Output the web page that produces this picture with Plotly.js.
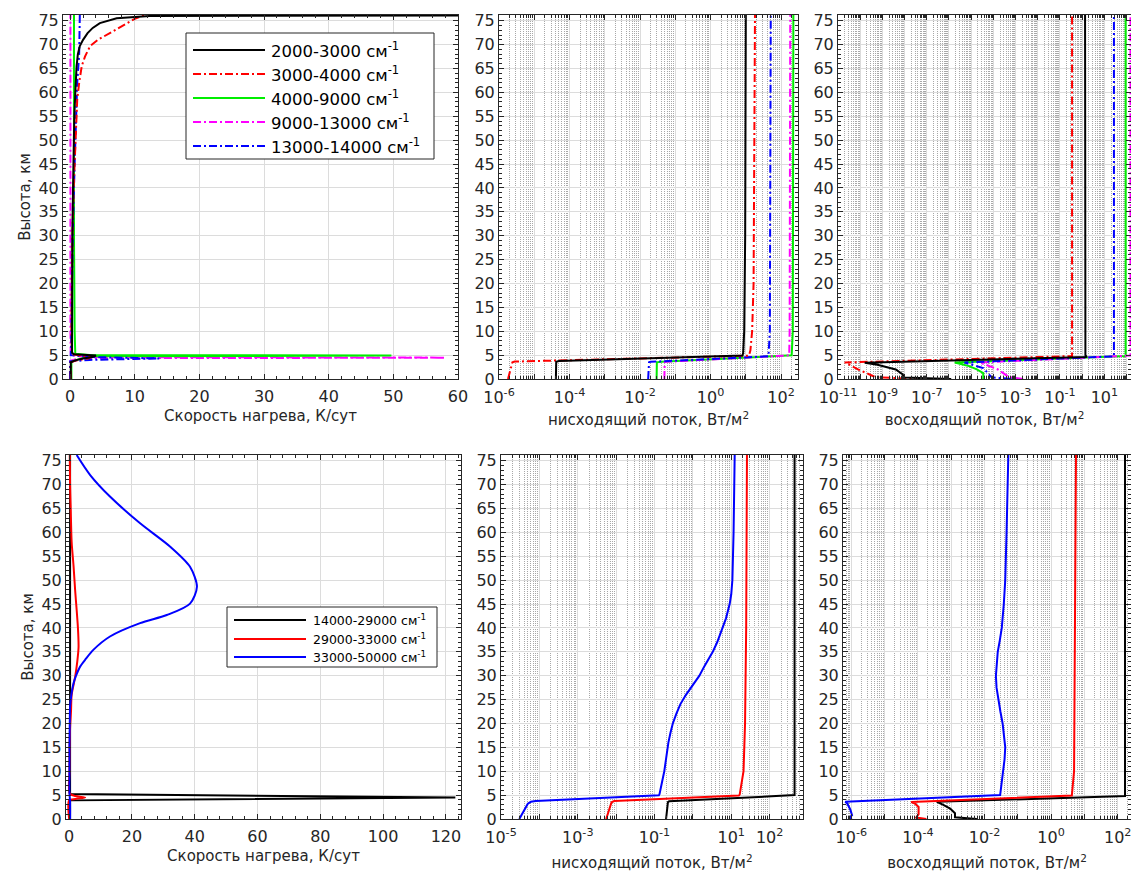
<!DOCTYPE html>
<html><head><meta charset="utf-8">
<script src="https://cdn.plot.ly/plotly-3.0.1.min.js"></script>
<style>html,body{margin:0;padding:0;background:#fff}#chart{width:1131px;height:872px}</style>
</head><body><div id="chart"></div>
<script>
// ---------- DATA ----------
const topNames = ['2000-3000 см<sup>-1</sup>','3000-4000 см<sup>-1</sup>','4000-9000 см<sup>-1</sup>','9000-13000 см<sup>-1</sup>','13000-14000 см<sup>-1</sup>'];
const botNames = ['14000-29000 см<sup>-1</sup>','29000-33000 см<sup>-1</sup>','33000-50000 см<sup>-1</sup>'];

// Heating rate, K/day (top-left)
const hr2000_h = [0,3.5,3.9,4.3,4.6,4.9,5.2,5.5,10,20,30,40,50,55,60,63,65.5,68,69.7,71,72.4,73.5,74.5,75.5,76,76.1];
const hr2000_v = [0.1,0.1,0.8,2.0,3.5,4.0,0.6,0.3,0.3,0.3,0.35,0.45,0.55,0.65,0.8,0.9,1.0,1.2,1.5,2.0,2.7,3.5,4.6,7.2,12.3,62];
const hr3000_h = [0,3.5,3.9,4.3,4.6,4.9,5.2,10,20,30.5,40,48,53,58.5,62,65.5,67.5,69.7,71,72.4,73.5,74.5,75.4,76.2];
const hr3000_v = [0.1,0.1,1.0,2.8,3.2,2.0,0.3,0.2,0.25,0.36,0.55,0.77,0.95,1.1,1.4,1.8,2.3,3.1,4.3,6.1,7.4,8.7,10.0,11.5];
const hr4000_h = [0,3.6,4.0,4.4,4.75,4.9,5.05,5.3,10,30,50,76.2];
const hr4000_v = [0.2,0.2,1.0,2.0,3.0,49.7,3.0,0.8,0.7,0.6,0.6,0.6];
const hr9000_h = [0,3.8,4.2,4.35,4.47,4.6,5.0,10,40,76.2];
const hr9000_v = [0.05,0.05,1.0,3.0,58,3.0,0.1,0.05,0.05,0.05];
const hr13000_h = [0,3.7,4.0,4.3,4.6,5.0,10,30,45,55,62,68,76.2];
const hr13000_v = [0,0,3,13.8,3,0.1,0.2,0.4,0.7,0.9,1.1,1.4,1.5];

// Downward flux, W/m2 (top-middle)
const dn2000_h = [0,3.6,3.75,4.9,5.5,10,30,76.2];
const dn2000_v = [4.1e-5,4.2e-5,5e-5,8.1,8.4,9.0,9.6,10];
const dn3000_h = [0,3.5,3.65,4.88,6,8,10,20,76.2];
const dn3000_v = [1.8e-6,2.4e-6,2.8e-6,12.3,13.5,14.5,15.1,16.6,18.2];
const dn4000_h = [0,3.5,3.6,4.95,10,76.2];
const dn4000_v = [0.0295,0.03,0.04,200,215,223];
const dn9000_h = [0,3.5,3.6,4.95,10,76.2];
const dn9000_v = [0.049,0.05,0.055,170,175,182];
const dn13000_h = [0,3.5,3.6,4.75,10,76.2];
const dn13000_v = [0.017,0.018,0.02,44,48,51];

// Upward flux, W/m2 (top-right)
const up2000_h = [0,0.3,1,2,3,3.4,4.6,5,76.2];
const up2000_v = [1.26e-6,1e-8,8e-9,4e-9,6e-10,1.6e-10,1.6,1.4,1.35];
const up3000_h = [0,0.35,1,2,3.3,3.45,4.8,5,76.2];
const up3000_v = [6.3e-8,5e-10,2.5e-10,8e-11,2.5e-11,2e-11,0.35,0.35,0.35];
const up4000_h = [0,1.25,2.0,2.7,3.3,3.45,4.8,5,76.2];
const up4000_v = [3.5e-5,3.5e-5,1.8e-5,8e-6,2.5e-6,1.8e-6,91,91,91];
const up9000_h = [0,0.4,2,3.3,3.45,4.9,76.2];
const up9000_v = [2.2e-3,5e-4,1.6e-4,3.2e-5,2.5e-5,150,150];
const up13000_h = [0,0.35,2.3,3.3,3.45,4.75,5,76.2];
const up13000_v = [6.6e-4,8.3e-5,3.5e-5,6.3e-6,5e-6,27,27,27];

// Heating rate, K/day (bottom-left)
const hr14000_h = [0,3.9,4.5,5.25,5.5,10,20,30,40,50,60,70,76.2];
const hr14000_v = [0.3,0.3,123,0.4,0.3,0.3,0.2,0.2,0.3,0.3,0.3,0.3,0.3];
const hr29000_h = [0,3.9,4.2,4.5,4.8,5.3,10,19,22.6,26,29.7,33,36,40,48,53,58,65,70,76.2];
const hr29000_v = [0,0,2,5.1,2,0.2,0.1,0.3,0.6,0.8,1.9,2.6,3.0,2.8,1.9,1.4,0.8,0.5,0.3,0.2];
const hr33000_h = [0,3.5,4.5,5.5,10,15,20,23.5,26,28.4,30,31.9,33.5,35.4,38.2,41,42.7,45.1,48.6,52.8,57,61.9,67.5,72,76.2];
const hr33000_v = [0.3,0.3,0.2,0.1,0.1,0.1,0.2,0.3,0.7,1.4,2.2,3.5,5.3,7.7,13,22.6,31.1,38.5,40.7,38.5,32.2,22.6,13,6.7,2.4];

// Downward flux (bottom-middle)
const dn14000_h = [0,3.55,3.7,4.85,5,76.2];
const dn14000_v = [0.2,0.224,0.24,417,447,447];
const dn29000_h = [0,3.5,3.75,4.9,5.1,10,20,40,76.2];
const dn29000_v = [5.5e-3,7.6e-3,8.9e-3,15.8,16.6,20.9,22.9,24.5,25.7];
const dn33000_h = [0,3.2,3.6,3.75,4.95,5.2,10,12,14,16,18,20,22,24,26,28,30,32,35,37,40,42,45,47,50,55,60,76.2];
const dn33000_v = [3.0e-5,5e-5,6e-5,8e-5,0.13,0.135,0.18,0.195,0.21,0.23,0.26,0.30,0.37,0.47,0.66,0.98,1.48,2.0,3.3,4.3,6.0,7.3,9.1,10.0,10.7,11.2,11.5,12.3];

// Upward flux (bottom-right)
const up14000_h = [0,0.35,1.2,2.2,3.0,3.6,4.8,5,76.2];
const up14000_v = [5.9e-3,1.3e-3,1.3e-3,9.3e-4,5.6e-4,3.7e-4,166,166,166];
const up29000_h = [0,0.3,1,2.5,3.3,3.55,4.9,10,76.2];
const up29000_v = [1.8e-4,8.9e-5,1.05e-4,1.05e-4,7.9e-5,6.3e-5,4.2,4.9,5.6];
const up33000_h = [0,0.15,0.8,2,3.2,3.6,5,7.5,10,12.5,15,17.5,20,22.5,25,27.5,30,32.5,35,37.5,40,45,50,60,76.2];
const up33000_v = [1.05e-6,8.3e-7,1.05e-6,9.3e-7,7.6e-7,6.6e-7,0.0295,0.033,0.037,0.040,0.042,0.039,0.035,0.030,0.026,0.023,0.022,0.023,0.025,0.029,0.033,0.038,0.042,0.046,0.052];

// Tick labels
const yTicks = [0,5,10,15,20,25,30,35,40,45,50,55,60,65,70,75];
const tmExp = [-6,-4,-2,0,2];
const trExp = [-11,-9,-7,-5,-3,-1,1];
const bmExp = [-5,-3,-1,1,2];
const brExp = [-6,-4,-2,0,2];

// ---------- STYLE ----------
const FONT = 'DejaVu Sans, Arial, sans-serif';
const TXT = '#262626';
const DD = '8px,3px,2px,3px';
const topColors = ['#000000','#ff0000','#00ee00','#ff00ff','#0000ff'];
const topDash = ['solid',DD,'solid',DD,DD];
const botColors = ['#000000','#ff0000','#0000ff'];
const W = 1131, H = 872;
const px = x => x / W, py = y => 1 - y / H;

const traces = [];
function add(h, v, color, dash, xa, ya, name, smooth) {
  const ln = {color: color, width: 2, dash: dash};
  if (smooth) { ln.shape = 'spline'; ln.smoothing = smooth; }
  traces.push({x: v, y: h, type: 'scatter', mode: 'lines', name: name,
    line: ln, xaxis: xa, yaxis: ya, showlegend: false, hoverinfo: 'skip'});
}
const topHR = [[hr2000_h,hr2000_v],[hr3000_h,hr3000_v],[hr4000_h,hr4000_v],[hr9000_h,hr9000_v],[hr13000_h,hr13000_v]];
const topDN = [[dn2000_h,dn2000_v],[dn3000_h,dn3000_v],[dn4000_h,dn4000_v],[dn9000_h,dn9000_v],[dn13000_h,dn13000_v]];
const topUP = [[up2000_h,up2000_v],[up3000_h,up3000_v],[up4000_h,up4000_v],[up9000_h,up9000_v],[up13000_h,up13000_v]];
const botHR = [[hr14000_h,hr14000_v],[hr29000_h,hr29000_v],[hr33000_h,hr33000_v]];
const botDN = [[dn14000_h,dn14000_v],[dn29000_h,dn29000_v],[dn33000_h,dn33000_v]];
const botUP = [[up14000_h,up14000_v],[up29000_h,up29000_v],[up33000_h,up33000_v]];
[3,2,4,1,0].forEach(i => add(topHR[i][0], topHR[i][1], topColors[i], topDash[i], 'x', 'y', topNames[i]));
[2,3,4,1,0].forEach(i => add(topDN[i][0], topDN[i][1], topColors[i], topDash[i], 'x2', 'y2', topNames[i]));
[2,3,4,1,0].forEach(i => add(topUP[i][0], topUP[i][1], topColors[i], topDash[i], 'x3', 'y3', topNames[i]));
[0,1,2].forEach(i => add(botHR[i][0], botHR[i][1], botColors[i], 'solid', 'x4', 'y4', botNames[i], i > 0 ? 0.8 : 0));
[0,1,2].forEach(i => add(botDN[i][0], botDN[i][1], botColors[i], 'solid', 'x5', 'y5', botNames[i]));
[0,1,2].forEach(i => add(botUP[i][0], botUP[i][1], botColors[i], 'solid', 'x6', 'y6', botNames[i]));

const tickFont = {family: FONT, size: 16, color: TXT};
const titleFont = {family: FONT, size: 15, color: TXT};
const common = {showline: true, linecolor: TXT, linewidth: 1, mirror: 'allticks', ticks: 'inside',
  ticklen: 5, tickcolor: TXT, tickfont: tickFont, showgrid: true, gridcolor: '#dcdcdc', gridwidth: 1,
  zeroline: false, fixedrange: true, tickangle: 0, ticklabeloverflow: 'allow'};

function yax(domain, anchor, title) {
  const a = Object.assign({}, common, {domain: domain, anchor: anchor, range: [0, 76.2],
    tickmode: 'array', tickvals: yTicks, ticktext: yTicks.map(String),
    minor: {dtick: 1, tick0: 0, ticklen: 3, ticks: 'inside', tickcolor: TXT, showgrid: false}});
  if (title) a.title = {text: title, font: titleFont, standoff: 4};
  return a;
}
function linx(domain, anchor, range, tv, mdt, title, so) {
  return Object.assign({}, common, {domain: domain, anchor: anchor, range: range,
    tickmode: 'array', tickvals: tv, ticktext: tv.map(String), ticklabelstandoff: 3,
    minor: {dtick: mdt, tick0: 0, ticklen: 3, ticks: 'inside', tickcolor: TXT, showgrid: false},
    title: {text: title, font: titleFont, standoff: so}});
}
function logx(domain, anchor, range, labelExp, title, so) {
  const tv = [], tt = [], mv = [];
  for (let d = Math.floor(range[0]); d <= Math.ceil(range[1]); d++) {
    tv.push(Math.pow(10, d));
    tt.push(labelExp.indexOf(d) >= 0 ? '10<sup>' + d + '</sup>' : ' ');
    for (let k = 2; k <= 9; k++) mv.push(k * Math.pow(10, d));
  }
  return Object.assign({}, common, {domain: domain, anchor: anchor, type: 'log', range: range,
    tickmode: 'array', tickvals: tv, ticktext: tt, ticklabelstandoff: 4,
    minor: {tickmode: 'array', tickvals: mv, ticklen: 3, ticks: 'inside', tickcolor: TXT,
      showgrid: true, gridcolor: '#a8a8a8', gridwidth: 1, griddash: '1px,1px'},
    title: {text: title, font: titleFont, standoff: so}});
}

const yTop = [py(379), py(15)], yBot = [py(819), py(455)];
const HRT = 'Скорость нагрева, К/сут';
const DNT = 'нисходящий поток, Вт/м<sup>2</sup>';
const UPT = 'восходящий поток, Вт/м<sup>2</sup>';
const layout = {
  width: W, height: H, margin: {l: 0, r: 0, t: 0, b: 0}, paper_bgcolor: '#fff', plot_bgcolor: '#fff',
  showlegend: false, font: {family: FONT, color: TXT},
  xaxis: linx([px(63), px(458)], 'y', [-1.1, 60], [0,10,20,30,40,50,60], 2, HRT, 5),
  yaxis: yax(yTop, 'x', 'Высота, км'),
  xaxis2: logx([px(499), px(798)], 'y2', [-6, 2.48], tmExp, DNT, 8),
  yaxis2: yax(yTop, 'x2'),
  xaxis3: logx([px(838), 1], 'y3', [-11, 2.2], trExp, UPT, 8),
  yaxis3: yax(yTop, 'x3'),
  xaxis4: linx([px(66), px(461)], 'y4', [-1, 124.8], [0,20,40,60,80,100,120], 4, HRT, 5),
  yaxis4: yax(yBot, 'x4', 'Высота, км'),
  xaxis5: logx([px(501), px(803)], 'y5', [-5, 2.87], bmExp, DNT, 13),
  yaxis5: yax(yBot, 'x5'),
  xaxis6: logx([px(843), 1], 'y6', [-6.25, 2.4], brExp, UPT, 13),
  yaxis6: yax(yBot, 'x6'),
  shapes: [], annotations: []
};

function legendBox(x0, y0, x1, y1, rows, names, colors, dashes, lx0, lx1, tx, fs) {
  layout.shapes.push({type: 'rect', xref: 'paper', yref: 'paper', x0: px(x0), x1: px(x1), y0: py(y1), y1: py(y0),
    line: {color: TXT, width: 1}, fillcolor: '#fff', layer: 'above'});
  names.forEach((n, i) => {
    layout.shapes.push({type: 'line', xref: 'paper', yref: 'paper', x0: px(lx0), x1: px(lx1), y0: py(rows[i]), y1: py(rows[i]),
      line: {color: colors[i], width: 2, dash: dashes[i]}, layer: 'above'});
    layout.annotations.push({xref: 'paper', yref: 'paper', x: px(tx), y: py(rows[i]), xanchor: 'left', yanchor: 'middle',
      text: n, showarrow: false, font: {family: FONT, size: fs, color: '#000'}});
  });
}
legendBox(186, 33, 434, 159, [50, 74, 98, 122, 146], topNames, topColors, topDash, 193, 265, 269, 16.5);
legendBox(227, 607, 437, 667, [620, 639, 657], botNames, botColors, ['solid','solid','solid'], 234, 306, 311, 12.5);

Plotly.newPlot('chart', traces, layout, {staticPlot: true, displayModeBar: false});
</script></body></html>
